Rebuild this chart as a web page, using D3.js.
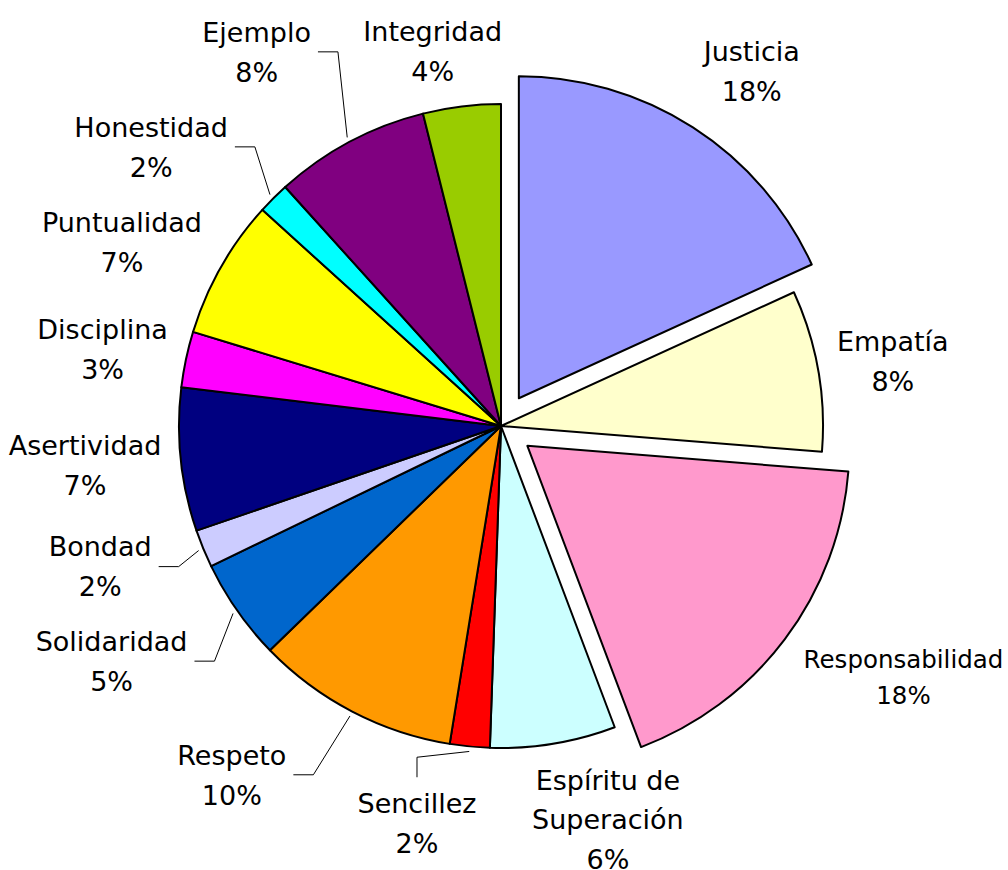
<!DOCTYPE html>
<html>
<head>
<meta charset="utf-8">
<script src="https://cdn.jsdelivr.net/npm/d3@7.9.0/dist/d3.min.js"></script>
<style>
  body { margin: 0; background: #fff; }
  svg { display: block; font-family: "DejaVu Sans", sans-serif; }
</style>
</head>
<body>
<div id="chart"></div>
<script>
// data (clockwise from 12 o'clock)
const categories = ["Justicia", "Empatía", "Responsabilidad", "Espíritu de Superación", "Sencillez",
  "Respeto", "Solidaridad", "Bondad", "Asertividad", "Disciplina", "Puntualidad", "Honestidad",
  "Ejemplo", "Integridad"];
const values = [18.2, 8.1, 18.0, 6.3, 2.0, 10.2, 5.1, 1.9, 7.2, 2.8, 7.0, 1.6, 7.8, 3.9];
const colors = ["#9999ff", "#ffffcc", "#ff99cc", "#ccffff", "#ff0000", "#ff9900", "#0066cc",
  "#ccccff", "#000080", "#ff00ff", "#ffff00", "#00ffff", "#800080", "#99cc00"];
const exploded = ["Justicia", "Responsabilidad"];

// config
const width = 1008,
  height = 870;
const cx = 501,
  cy = 426,
  radius = 322;
const explode = 33;
const labelGap = 342;
const fontSize = 27;

// labels that were dragged around in the original
const labelNudge = {
  Justicia: [22, -14],
  Responsabilidad: [23, 9],
  "Espíritu de Superación": [39, 7],
  Sencillez: [-45, 27],
  Respeto: [-86, 19],
  Solidaridad: [-47, 22],
  Bondad: [-37, -1],
  Puntualidad: [-12, 0],
  Honestidad: [-54, -16],
  Ejemplo: [-58, -46],
  Integridad: [-18, -6],
};
const labelSize = { Responsabilidad: 24.5 };
const leaders = ["Sencillez", "Respeto", "Solidaridad", "Bondad", "Honestidad", "Ejemplo"];

const data = categories.map((name, i) => ({ name, value: values[i], color: colors[i] }));
const total = d3.sum(values);
const pct = d3.format(".0%");

const pie = d3.pie().sort(null).value((d) => d.value);
const arc = d3.arc().innerRadius(0).outerRadius(radius);
const arcs = pie(data);

arcs.forEach((d) => {
  d.mid = (d.startAngle + d.endAngle) / 2;
  d.u = [Math.sin(d.mid), -Math.cos(d.mid)];
  d.off = exploded.includes(d.data.name) ? explode : 0;
});

const svg = d3
  .select("#chart")
  .append("svg")
  .attr("width", width)
  .attr("height", height);

const g = svg.append("g").attr("transform", `translate(${cx},${cy})`);

g.selectAll("path.slice")
  .data(arcs)
  .join("path")
  .attr("class", "slice")
  .attr("transform", (d) => `translate(${d.u[0] * d.off},${d.u[1] * d.off})`)
  .attr("d", arc)
  .attr("fill", (d) => d.data.color)
  .attr("stroke", "#000")
  .attr("stroke-width", 2)
  .attr("stroke-linejoin", "round");

function wrap(t, text, maxW) {
  const words = text.split(" ");
  const probe = t.append("tspan");
  const lines = [];
  let line = [];
  words.forEach((w) => {
    line.push(w);
    probe.text(line.join(" "));
    if (probe.node().getComputedTextLength() > maxW && line.length > 1) {
      line.pop();
      lines.push(line.join(" "));
      line = [w];
    }
  });
  lines.push(line.join(" "));
  probe.remove();
  return lines;
}

const labels = g
  .append("g")
  .selectAll("text")
  .data(arcs)
  .join("text")
  .attr("font-size", (d) => labelSize[d.data.name] || fontSize)
  .attr("text-anchor", "middle")
  .attr("fill", "#000");

labels.each(function (d) {
  const t = d3.select(this);
  const fs = +t.attr("font-size");
  const lines = wrap(t, d.data.name, 170);
  lines.push(pct(d.data.value / total));
  const lh = fs * 1.48;
  lines.forEach((s, i) =>
    t.append("tspan").attr("x", 0).attr("y", i * lh).text(s)
  );
  const w = d3.max(t.selectAll("tspan").nodes(), (n) => n.getComputedTextLength());
  const cap = fs * 0.73;
  const h = cap + (lines.length - 1) * lh;
  const nudge = labelNudge[d.data.name] || [0, 0];
  const dist = d.off + labelGap;
  const lx = d.u[0] * dist + (d.u[0] * w) / 2 + nudge[0];
  const ly = d.u[1] * dist + (d.u[1] * h) / 2 + nudge[1];
  d.box = { x: lx, y: ly, w, h };
  t.attr("transform", `translate(${lx},${ly - h / 2 + cap})`);
});

// leader lines for the moved labels
arcs
  .filter((d) => leaders.includes(d.data.name))
  .forEach((d) => {
    const ex = d.u[0] * (radius + 5),
      ey = d.u[1] * (radius + 5);
    const b = d.box;
    let pts;
    if (ex < b.x - b.w / 2 || ex > b.x + b.w / 2) {
      const side = ex > b.x ? 1 : -1;
      const sx = b.x + side * (b.w / 2 + 7);
      pts = [[sx, b.y], [sx + side * 20, b.y], [ex, ey]];
    } else {
      const side = ey > b.y ? 1 : -1;
      const sy = b.y + side * (b.h / 2 + 16);
      pts = [[b.x, sy], [b.x, sy + side * 20], [ex, ey]];
    }
    g.append("path")
      .attr("d", d3.line()(pts))
      .attr("fill", "none")
      .attr("stroke", "#000")
      .attr("stroke-width", 1);
  });
</script>
</body>
</html>
